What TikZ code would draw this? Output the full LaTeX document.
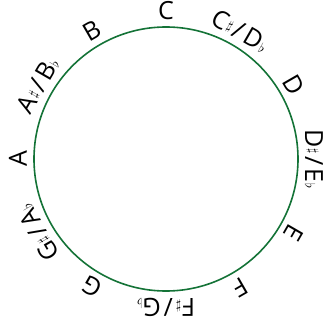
\documentclass[tikz,border=0pt]{standalone}
\usepackage{fontspec}
\usepackage{graphicx}
\setmainfont{Open Sans}
\definecolor{ring}{RGB}{20,115,55}
\newcommand{\shp}{\kern1pt\raisebox{4pt}{\scalebox{0.55}{$\sharp$}}\kern3pt}
\newcommand{\flt}{\kern0.5pt\scalebox{0.55}{$\flat$}}
\begin{document}
\begin{tikzpicture}[x=1pt,y=1pt]
  \useasboundingbox (0,0) rectangle (324,327);
  \coordinate (mid) at (166,168);
  \draw[ring,line width=1.6pt] (mid) circle[radius=132];
  \foreach \a/\nm/\lab in {90/C/C, 60/Cs/{C\shp/\kern3pt D\flt}, 30/D/D, 0/Ds/{D\shp/\kern3pt E\flt},
      -30/E/E, -60/F/F, -90/Fs/{F\shp/\kern3pt G\flt}, -120/G/G, -150/Gs/{G\shp/\kern3pt A\flt},
      180/A/A, 150/As/{A\shp/\kern3pt B\flt}, 120/B/B}{
    \node[font=\fontsize{25}{25}\selectfont,anchor=base,inner sep=0pt,rotate=\a-90]
      (\nm) at ([shift={(\a:139)}]mid) {\lab};
  }
\end{tikzpicture}
\end{document}
